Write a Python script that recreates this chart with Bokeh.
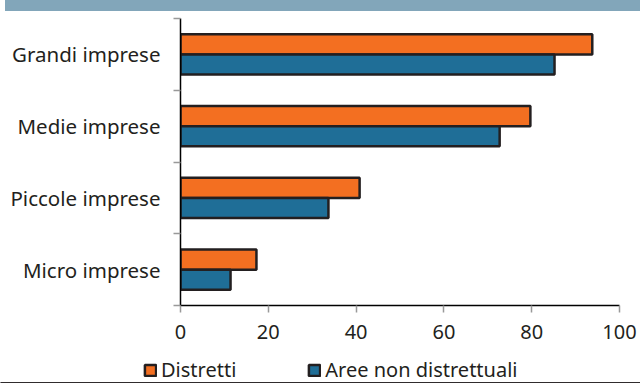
from bokeh.plotting import figure
from bokeh.models import (ColumnDataSource, FixedTicker, Legend, LegendItem,
                          Range1d, Div)
from bokeh.layouts import column, row
from bokeh.embed import file_html
from bokeh.resources import INLINE

categories = ["Micro imprese", "Piccole imprese", "Medie imprese", "Grandi imprese"]
distretti = [17.3, 40.8, 79.7, 93.8]
aree_non_distrettuali = [11.4, 33.7, 72.7, 85.2]
x_ticks = [0, 20, 40, 60, 80, 100]
series_names = ["Distretti", "Aree non distrettuali"]

ORANGE = "#f36f21"
BLUE = "#1f6e97"
EDGE = "#231f20"
TEXT = "#231f20"
FONT = "Noto Sans"

centers = [i + 0.5 for i in range(len(categories))]
bar_h = 0.28

src_d = ColumnDataSource(dict(y=[c + bar_h / 2 for c in centers], right=distretti))
src_a = ColumnDataSource(dict(y=[c - bar_h / 2 for c in centers], right=aree_non_distrettuali))

band = Div(text="", width=635, height=11, margin=(0, 0, 0, 5),
           styles={"background-color": "#82a6ba"})

p = figure(width=640, height=342, output_backend="svg", toolbar_location=None,
           x_range=Range1d(0, 100), y_range=Range1d(0, len(categories)),
           min_border_left=180, min_border_right=21, min_border_top=7,
           min_border_bottom=48, margin=(0, 0, 0, 0))
p.outline_line_color = None
p.grid.grid_line_color = None
p.background_fill_color = "white"
p.border_fill_color = "white"

p.hbar(y="y", right="right", left=0, height=bar_h, source=src_d,
       fill_color=ORANGE, line_color=EDGE, line_width=2.5)
p.hbar(y="y", right="right", left=0, height=bar_h, source=src_a,
       fill_color=BLUE, line_color=EDGE, line_width=2.5)

# x axis
xa = p.xaxis[0]
xa.ticker = FixedTicker(ticks=x_ticks)
xa.axis_line_color = "black"
xa.axis_line_width = 1.5
xa.major_tick_line_color = "#999999"
xa.major_tick_line_width = 1.5
xa.major_tick_out = 7
xa.major_tick_in = 0
xa.minor_tick_line_color = None
xa.major_label_text_font = FONT
xa.major_label_text_font_size = "20px"
xa.major_label_text_color = TEXT
xa.major_label_standoff = 12

# y axis: labels at centres, ticks at boundaries (minor ticks)
ya = p.yaxis[0]
ya.ticker = FixedTicker(ticks=centers, minor_ticks=list(range(len(categories) + 1)))
ya.major_label_overrides = {c: name for c, name in zip(centers, categories)}
ya.axis_line_color = "black"
ya.axis_line_width = 1.5
ya.major_tick_line_color = None
ya.minor_tick_line_color = "#999999"
ya.minor_tick_line_width = 1.5
ya.minor_tick_out = 7
ya.minor_tick_in = 0
ya.major_label_text_font = FONT
ya.major_label_text_font_size = "20.5px"
ya.major_label_text_color = TEXT
ya.major_label_standoff = 13

# legend in its own strip below the chart
lg = figure(width=640, height=30, output_backend="svg", toolbar_location=None,
            x_range=Range1d(0, 1), y_range=Range1d(0, 1),
            x_axis_type=None, y_axis_type=None, title=None,
            min_border_left=0, min_border_right=0, min_border_top=0,
            min_border_bottom=0, margin=(0, 0, 0, 0))
lg.outline_line_color = None
lg.grid.grid_line_color = None
# glyphs only used for legend swatches (placed outside the visible range)
off = ColumnDataSource(dict(y=[-5], right=[1]))
l_d = lg.hbar(y="y", right="right", left=0, height=0.1, source=off,
              fill_color=ORANGE, line_color=EDGE, line_width=2.5)
l_a = lg.hbar(y="y", right="right", left=0, height=0.1, source=off,
              fill_color=BLUE, line_color=EDGE, line_width=2.5)
legend = Legend(items=[LegendItem(label=series_names[0], renderers=[l_d]),
                       LegendItem(label=series_names[1], renderers=[l_a])],
                orientation="horizontal", location=(143, 0),
                label_text_font=FONT, label_text_font_size="20px",
                label_text_color=TEXT, glyph_width=14, glyph_height=14,
                label_standoff=4, spacing=71, padding=0, margin=0,
                border_line_color=None, background_fill_alpha=0)
lg.add_layout(legend, "center")

layout = column(band, p, row(lg), spacing=0)
open("out.html", "w").write(file_html(layout, INLINE))
